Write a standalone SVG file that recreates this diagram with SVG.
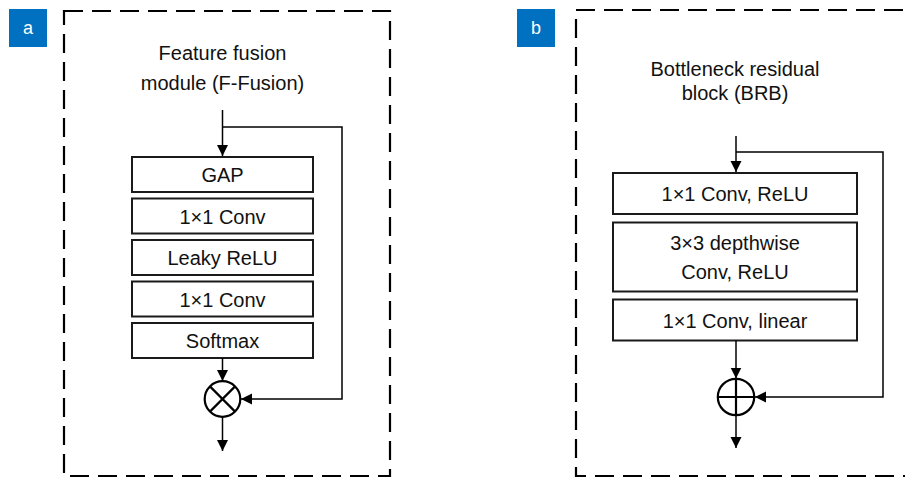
<svg xmlns="http://www.w3.org/2000/svg" width="905" height="478" viewBox="0 0 905 478">
  <style>
    .frame { fill: none; stroke: #000; stroke-width: 2.2; stroke-dasharray: 19 9; }
    .tag { fill: #0070C0; }
    .tagtxt { fill: #fff; font-family: "Liberation Sans", Arial, sans-serif; font-size: 18px; text-anchor: middle; }
    .title { fill: #111; font-family: "Liberation Sans", Arial, sans-serif; font-size: 20px; text-anchor: middle; }
    .box { fill: #fff; stroke: #1a1a1a; stroke-width: 2; }
    .lbl { fill: #111; font-family: "Liberation Sans", Arial, sans-serif; font-size: 20px; text-anchor: middle; }
    .wire { fill: none; stroke: #000; stroke-width: 1.5; }
    .op { fill: #fff; stroke: #000; stroke-width: 2.2; }
    .opline { stroke: #000; stroke-width: 2.2; }
  </style>
  <defs>
    <marker id="arrow" markerUnits="userSpaceOnUse" markerWidth="12" markerHeight="12" viewBox="0 0 12 12" refX="11" refY="6" orient="auto">
      <path d="M0,0.5 L11,6 L0,11.5 Z" fill="#000"/>
    </marker>
  </defs>

  <!-- Panel a: feature fusion module -->
  <g id="panel-a">
    <rect class="frame" x="64" y="11" width="326" height="465"/>
    <rect class="tag" x="9" y="9" width="38" height="38"/>
    <text class="tagtxt" x="28" y="34">a</text>
    <text class="title" x="222.5" y="60">Feature fusion</text>
    <text class="title" x="222.5" y="90">module (F-Fusion)</text>
  </g>

  <g id="gap">
    <rect class="box" x="132" y="157" width="181" height="35"/>
    <text class="lbl" x="222.5" y="182">GAP</text>
  </g>
  <g id="conv1-a">
    <rect class="box" x="132" y="198.5" width="181" height="35"/>
    <text class="lbl" x="222.5" y="223.5">1×1 Conv</text>
  </g>
  <g id="leaky-relu">
    <rect class="box" x="132" y="240" width="181" height="35"/>
    <text class="lbl" x="222.5" y="265">Leaky ReLU</text>
  </g>
  <g id="conv2-a">
    <rect class="box" x="132" y="281.5" width="181" height="35"/>
    <text class="lbl" x="222.5" y="306.5">1×1 Conv</text>
  </g>
  <g id="softmax">
    <rect class="box" x="132" y="323" width="181" height="35"/>
    <text class="lbl" x="222.5" y="348">Softmax</text>
  </g>
  <g id="multiply">
    <circle class="op" cx="222.5" cy="399" r="17.8"/>
    <line class="opline" x1="209.9" y1="386.4" x2="235.1" y2="411.6"/>
    <line class="opline" x1="235.1" y1="386.4" x2="209.9" y2="411.6"/>
  </g>

  <!-- Panel b: bottleneck residual block -->
  <g id="panel-b">
    <rect class="frame" x="576" y="10" width="360" height="466"/>
    <rect class="tag" x="517" y="9" width="38" height="38"/>
    <text class="tagtxt" x="536" y="34">b</text>
    <text class="title" x="735" y="76">Bottleneck residual</text>
    <text class="title" x="735" y="100">block (BRB)</text>
  </g>

  <g id="conv-relu">
    <rect class="box" x="613" y="173" width="244" height="41"/>
    <text class="lbl" x="735" y="201">1×1 Conv, ReLU</text>
  </g>
  <g id="depthwise">
    <rect class="box" x="613" y="222.5" width="244" height="69"/>
    <text class="lbl" x="735" y="250">3×3 depthwise</text>
    <text class="lbl" x="735" y="278.5">Conv, ReLU</text>
  </g>
  <g id="conv-linear">
    <rect class="box" x="613" y="299.5" width="244" height="41"/>
    <text class="lbl" x="735" y="327.5">1×1 Conv, linear</text>
  </g>
  <g id="add">
    <circle class="op" cx="736" cy="397" r="18.2"/>
    <line class="opline" x1="717.8" y1="397" x2="754.2" y2="397"/>
    <line class="opline" x1="736" y1="378.8" x2="736" y2="415.2"/>
  </g>

  <!-- Connectors -->
  <g id="connectors">
    <line class="wire" x1="222.5" y1="110" x2="222.5" y2="156" marker-end="url(#arrow)"/>
    <polyline class="wire" points="222.5,127 342,127 342,399 241,399" marker-end="url(#arrow)"/>
    <line class="wire" x1="222.5" y1="358" x2="222.5" y2="381" marker-end="url(#arrow)"/>
    <line class="wire" x1="222.5" y1="417" x2="222.5" y2="451" marker-end="url(#arrow)"/>

    <line class="wire" x1="736" y1="136" x2="736" y2="172" marker-end="url(#arrow)"/>
    <polyline class="wire" points="736,152 883,152 883,397 755,397" marker-end="url(#arrow)"/>
    <line class="wire" x1="736" y1="340.5" x2="736" y2="378.5" marker-end="url(#arrow)"/>
    <line class="wire" x1="736" y1="415" x2="736" y2="448" marker-end="url(#arrow)"/>
  </g>
</svg>
